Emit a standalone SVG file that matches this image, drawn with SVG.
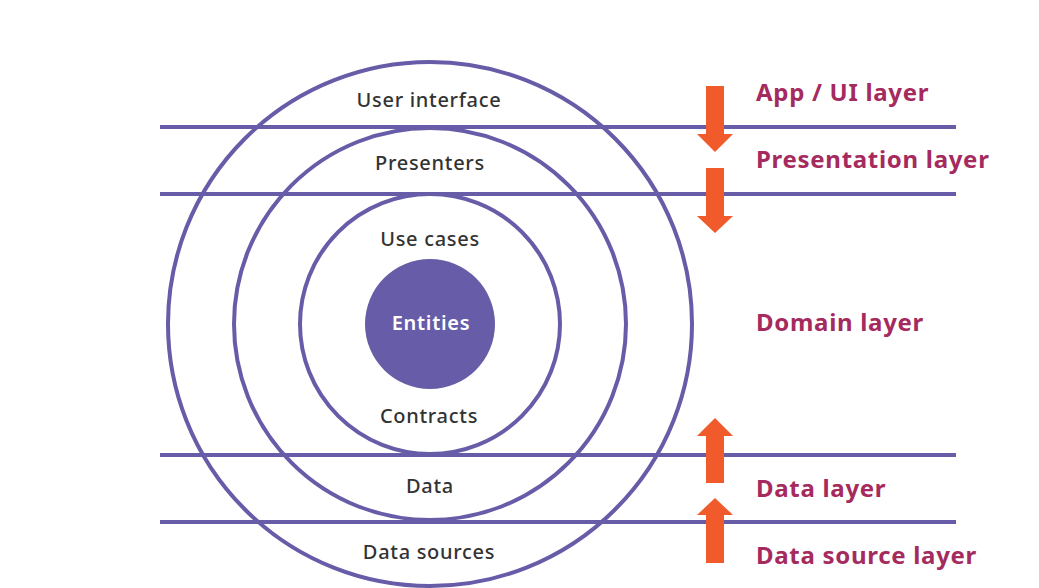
<svg xmlns="http://www.w3.org/2000/svg" width="1039" height="588" viewBox="0 0 1039 588">
<style>
.ring{fill:none;stroke:#665CA8;stroke-width:4}
.line{stroke:#665CA8;stroke-width:4}
.arrow{fill:#F15A2B}
.lbl{font-family:"Noto Sans",sans-serif;font-size:20px;letter-spacing:0.7px;fill:#333333;text-anchor:middle;font-weight:500}
.layer{font-family:"Noto Sans",sans-serif;font-size:24px;letter-spacing:0.7px;font-weight:bold;fill:#A52A5E}
</style>
<rect width="1039" height="588" fill="#ffffff"/>
<g id="rings">
<circle class="ring" cx="430" cy="324" r="262"/>
<circle class="ring" cx="430" cy="324" r="196"/>
<circle class="ring" cx="430" cy="324" r="130"/>
</g>
<g id="entities">
<circle cx="430" cy="324" r="65" fill="#665CA8"/>
<text class="lbl" x="431" y="330" style="fill:#ffffff;font-weight:600">Entities</text>
</g>
<g id="connectors">
<line class="line" x1="160" y1="127" x2="956" y2="127"/>
<line class="line" x1="160" y1="194" x2="956" y2="194"/>
<line class="line" x1="160" y1="455" x2="956" y2="455"/>
<line class="line" x1="160" y1="522" x2="956" y2="522"/>
<polygon class="arrow" points="706,86 724,86 724,134 733,134 715,152 697,134 706,134"/>
<polygon class="arrow" points="706,168 724,168 724,216 733,216 715,233 697,216 706,216"/>
<polygon class="arrow" points="715,418 733,436 724,436 724,483 706,483 706,436 697,436"/>
<polygon class="arrow" points="715,498 733,515 724,515 724,563 706,563 706,515 697,515"/>
</g>
<g id="ring-labels">
<text class="lbl" x="429" y="107">User interface</text>
<text class="lbl" x="430" y="170">Presenters</text>
<text class="lbl" x="430" y="246">Use cases</text>
<text class="lbl" x="429" y="423">Contracts</text>
<text class="lbl" x="430" y="493">Data</text>
<text class="lbl" x="429" y="559">Data sources</text>
</g>
<g id="layer-labels">
<text class="layer" x="756" y="101">App / UI layer</text>
<text class="layer" x="756" y="168">Presentation layer</text>
<text class="layer" x="756" y="331">Domain layer</text>
<text class="layer" x="756" y="497">Data layer</text>
<text class="layer" x="756" y="564">Data source layer</text>
</g>
</svg>
